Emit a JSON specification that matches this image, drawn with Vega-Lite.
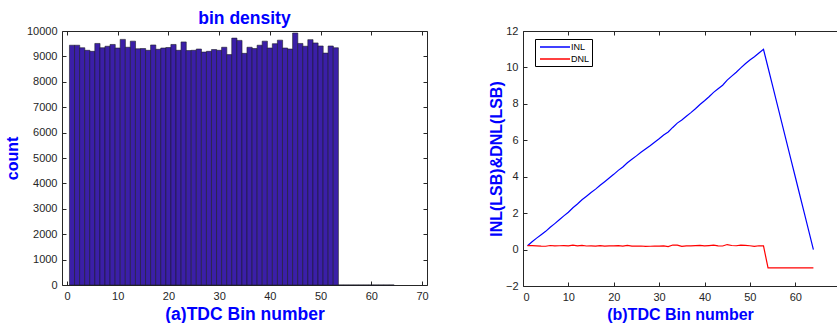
{
  "$schema": "https://vega.github.io/schema/vega-lite/v6.json",
  "padding": {"left": 4, "top": 9, "right": 0, "bottom": 0},
  "autosize": {"type": "pad"},
  "background": "#ffffff",
  "bounds": "flush",
  "spacing": 96,
  "resolve": {"legend": {"color": "independent"}},
  "config": {
    "view": {"stroke": null},
    "axis": {
      "grid": false,
      "labelFont": "Liberation Sans",
      "labelFontSize": 11,
      "labelColor": "#262626",
      "tickColor": "#262626",
      "domainColor": "#262626",
      "tickSize": -4,
      "labelPadding": 9,
      "titleFont": "Liberation Sans",
      "titleFontSize": 16,
      "titleFontWeight": "bold",
      "titleColor": "#0000FF"
    }
  },
  "datasets": {
    "hist": [
      {"bin":1,"count":9440},{"bin":2,"count":9440},{"bin":3,"count":9340},{"bin":4,"count":9240},{"bin":5,"count":9200},
      {"bin":6,"count":9510},{"bin":7,"count":9340},{"bin":8,"count":9400},{"bin":9,"count":9470},{"bin":10,"count":9330},
      {"bin":11,"count":9670},{"bin":12,"count":9360},{"bin":13,"count":9600},{"bin":14,"count":9300},{"bin":15,"count":9310},
      {"bin":16,"count":9240},{"bin":17,"count":9450},{"bin":18,"count":9280},{"bin":19,"count":9330},{"bin":20,"count":9350},
      {"bin":21,"count":9470},{"bin":22,"count":9240},{"bin":23,"count":9570},{"bin":24,"count":9230},{"bin":25,"count":9240},
      {"bin":26,"count":9290},{"bin":27,"count":9170},{"bin":28,"count":9200},{"bin":29,"count":9270},{"bin":30,"count":9240},
      {"bin":31,"count":9360},{"bin":32,"count":9070},{"bin":33,"count":9720},{"bin":34,"count":9630},{"bin":35,"count":9120},
      {"bin":36,"count":9360},{"bin":37,"count":9310},{"bin":38,"count":9440},{"bin":39,"count":9600},{"bin":40,"count":9330},
      {"bin":41,"count":9500},{"bin":42,"count":9640},{"bin":43,"count":9330},{"bin":44,"count":9290},{"bin":45,"count":9920},
      {"bin":46,"count":9510},{"bin":47,"count":9400},{"bin":48,"count":9660},{"bin":49,"count":9530},{"bin":50,"count":9410},
      {"bin":51,"count":9130},{"bin":52,"count":9410},{"bin":53,"count":9340},
      {"bin":54,"count":0},{"bin":55,"count":0},{"bin":56,"count":0},{"bin":57,"count":0},{"bin":58,"count":0},
      {"bin":59,"count":0},{"bin":60,"count":0},{"bin":61,"count":0},{"bin":62,"count":0},{"bin":63,"count":0},{"bin":64,"count":0}
    ],
    "nl": [
      {"bin":1,"series":"INL","value":0.214},{"bin":2,"series":"INL","value":0.428},{"bin":3,"series":"INL","value":0.629},
      {"bin":4,"series":"INL","value":0.818},{"bin":5,"series":"INL","value":1.001},{"bin":6,"series":"INL","value":1.224},
      {"bin":7,"series":"INL","value":1.425},{"bin":8,"series":"INL","value":1.634},{"bin":9,"series":"INL","value":1.852},
      {"bin":10,"series":"INL","value":2.052},{"bin":11,"series":"INL","value":2.296},{"bin":12,"series":"INL","value":2.5},
      {"bin":13,"series":"INL","value":2.735},{"bin":14,"series":"INL","value":2.931},{"bin":15,"series":"INL","value":3.129},
      {"bin":16,"series":"INL","value":3.318},{"bin":17,"series":"INL","value":3.534},{"bin":18,"series":"INL","value":3.728},
      {"bin":19,"series":"INL","value":3.928},{"bin":20,"series":"INL","value":4.131},{"bin":21,"series":"INL","value":4.349},
      {"bin":22,"series":"INL","value":4.538},{"bin":23,"series":"INL","value":4.769},{"bin":24,"series":"INL","value":4.956},
      {"bin":25,"series":"INL","value":5.145},{"bin":26,"series":"INL","value":5.34},{"bin":27,"series":"INL","value":5.52},
      {"bin":28,"series":"INL","value":5.703},{"bin":29,"series":"INL","value":5.895},{"bin":30,"series":"INL","value":6.084},
      {"bin":31,"series":"INL","value":6.288},{"bin":32,"series":"INL","value":6.455},{"bin":33,"series":"INL","value":6.705},
      {"bin":34,"series":"INL","value":6.944},{"bin":35,"series":"INL","value":7.117},{"bin":36,"series":"INL","value":7.321},
      {"bin":37,"series":"INL","value":7.519},{"bin":38,"series":"INL","value":7.733},{"bin":39,"series":"INL","value":7.968},
      {"bin":40,"series":"INL","value":8.168},{"bin":41,"series":"INL","value":8.39},{"bin":42,"series":"INL","value":8.63},
      {"bin":43,"series":"INL","value":8.83},{"bin":44,"series":"INL","value":9.025},{"bin":45,"series":"INL","value":9.301},
      {"bin":46,"series":"INL","value":9.524},{"bin":47,"series":"INL","value":9.733},{"bin":48,"series":"INL","value":9.976},
      {"bin":49,"series":"INL","value":10.202},{"bin":50,"series":"INL","value":10.412},{"bin":51,"series":"INL","value":10.586},
      {"bin":52,"series":"INL","value":10.796},{"bin":53,"series":"INL","value":10.997},{"bin":54,"series":"INL","value":9.997},
      {"bin":55,"series":"INL","value":8.997},{"bin":56,"series":"INL","value":7.997},{"bin":57,"series":"INL","value":6.997},
      {"bin":58,"series":"INL","value":5.997},{"bin":59,"series":"INL","value":4.997},{"bin":60,"series":"INL","value":3.997},
      {"bin":61,"series":"INL","value":2.997},{"bin":62,"series":"INL","value":1.997},{"bin":63,"series":"INL","value":0.997},
      {"bin":64,"series":"INL","value":-0.003},
      {"bin":1,"series":"DNL","value":0.214},{"bin":2,"series":"DNL","value":0.214},{"bin":3,"series":"DNL","value":0.201},
      {"bin":4,"series":"DNL","value":0.189},{"bin":5,"series":"DNL","value":0.183},{"bin":6,"series":"DNL","value":0.223},
      {"bin":7,"series":"DNL","value":0.201},{"bin":8,"series":"DNL","value":0.209},{"bin":9,"series":"DNL","value":0.218},
      {"bin":10,"series":"DNL","value":0.2},{"bin":11,"series":"DNL","value":0.244},{"bin":12,"series":"DNL","value":0.204},
      {"bin":13,"series":"DNL","value":0.235},{"bin":14,"series":"DNL","value":0.196},{"bin":15,"series":"DNL","value":0.198},
      {"bin":16,"series":"DNL","value":0.189},{"bin":17,"series":"DNL","value":0.216},{"bin":18,"series":"DNL","value":0.194},
      {"bin":19,"series":"DNL","value":0.2},{"bin":20,"series":"DNL","value":0.203},{"bin":21,"series":"DNL","value":0.218},
      {"bin":22,"series":"DNL","value":0.189},{"bin":23,"series":"DNL","value":0.231},{"bin":24,"series":"DNL","value":0.187},
      {"bin":25,"series":"DNL","value":0.189},{"bin":26,"series":"DNL","value":0.195},{"bin":27,"series":"DNL","value":0.18},
      {"bin":28,"series":"DNL","value":0.183},{"bin":29,"series":"DNL","value":0.192},{"bin":30,"series":"DNL","value":0.189},
      {"bin":31,"series":"DNL","value":0.204},{"bin":32,"series":"DNL","value":0.167},{"bin":33,"series":"DNL","value":0.25},
      {"bin":34,"series":"DNL","value":0.239},{"bin":35,"series":"DNL","value":0.173},{"bin":36,"series":"DNL","value":0.204},
      {"bin":37,"series":"DNL","value":0.198},{"bin":38,"series":"DNL","value":0.214},{"bin":39,"series":"DNL","value":0.235},
      {"bin":40,"series":"DNL","value":0.2},{"bin":41,"series":"DNL","value":0.222},{"bin":42,"series":"DNL","value":0.24},
      {"bin":43,"series":"DNL","value":0.2},{"bin":44,"series":"DNL","value":0.195},{"bin":45,"series":"DNL","value":0.276},
      {"bin":46,"series":"DNL","value":0.223},{"bin":47,"series":"DNL","value":0.209},{"bin":48,"series":"DNL","value":0.243},
      {"bin":49,"series":"DNL","value":0.226},{"bin":50,"series":"DNL","value":0.21},{"bin":51,"series":"DNL","value":0.174},
      {"bin":52,"series":"DNL","value":0.21},{"bin":53,"series":"DNL","value":0.201},{"bin":54,"series":"DNL","value":-1},
      {"bin":55,"series":"DNL","value":-1},{"bin":56,"series":"DNL","value":-1},{"bin":57,"series":"DNL","value":-1},
      {"bin":58,"series":"DNL","value":-1},{"bin":59,"series":"DNL","value":-1},{"bin":60,"series":"DNL","value":-1},
      {"bin":61,"series":"DNL","value":-1},{"bin":62,"series":"DNL","value":-1},{"bin":63,"series":"DNL","value":-1},
      {"bin":64,"series":"DNL","value":-1}
    ]
  },
  "hconcat": [
    {
      "width": 365,
      "height": 254,
      "title": {"text": "bin density", "color": "#0000FF", "fontSize": 17.5, "fontWeight": "bold", "font": "Liberation Sans", "offset": -2},
      "data": {"name": "hist"},
      "layer": [
        {
          "mark": {"type": "bar", "width": 5.21, "fill": "#3b1fa8", "stroke": "#1c1c28", "strokeWidth": 0.6},
          "encoding": {
            "x": {"field": "bin", "type": "quantitative", "scale": {"domain": [0, 70], "nice": false},
                  "axis": {"orient": "bottom", "values": [0,10,20,30,40,50,60,70], "title": "(a)TDC Bin number", "titlePadding": 4, "titleFontSize": 17.5}},
            "y": {"field": "count", "type": "quantitative", "scale": {"domain": [0, 10000], "nice": false},
                  "axis": {"orient": "left", "format": "d", "values": [0,1000,2000,3000,4000,5000,6000,7000,8000,9000,10000], "title": "count", "titlePadding": 6}}
          }
        },
        {
          "mark": {"type": "point", "opacity": 0},
          "encoding": {
            "x": {"field": "bin", "type": "quantitative", "axis": {"orient": "top", "values": [0,10,20,30,40,50,60,70], "labels": false, "title": null}},
            "y": {"field": "count", "type": "quantitative", "axis": {"orient": "right", "values": [0,1000,2000,3000,4000,5000,6000,7000,8000,9000,10000], "labels": false, "title": null}}
          }
        }
      ],
      "resolve": {"axis": {"x": "independent", "y": "independent"}}
    },
    {
      "width": 314,
      "height": 255,
      "data": {"name": "nl"},
      "layer": [
        {
          "mark": {"type": "line", "strokeWidth": 1.2},
          "encoding": {
            "x": {"field": "bin", "type": "quantitative", "scale": {"domain": [0, 69.2], "nice": false},
                  "axis": {"orient": "bottom", "values": [0,10,20,30,40,50,60], "title": "(b)TDC Bin number", "titlePadding": 4}},
            "y": {"field": "value", "type": "quantitative", "scale": {"domain": [-2, 12], "nice": false},
                  "axis": {"orient": "left", "values": [-2,0,2,4,6,8,10,12], "title": "INL(LSB)&DNL(LSB)", "titlePadding": 1}},
            "color": {"field": "series", "type": "nominal",
                      "scale": {"domain": ["INL", "DNL"], "range": ["#0000FF", "#FF0000"]},
                      "legend": {"orient": "none", "legendX": 12, "legendY": 8, "title": null,
                                 "strokeColor": "#000000", "fillColor": "#ffffff", "padding": 2,
                                 "labelFont": "Liberation Sans", "labelFontSize": 9, "labelColor": "#000000",
                                 "symbolType": "M-3,0H3", "symbolSize": 100, "symbolStrokeWidth": 1.5,
                                 "symbolOffset": 12, "labelOffset": 10, "rowPadding": 1}}
          }
        },
        {
          "mark": {"type": "point", "opacity": 0},
          "encoding": {
            "x": {"field": "bin", "type": "quantitative", "axis": {"orient": "top", "values": [0,10,20,30,40,50,60], "labels": false, "title": null}}
          }
        }
      ],
      "resolve": {"axis": {"x": "independent"}}
    }
  ]
}
